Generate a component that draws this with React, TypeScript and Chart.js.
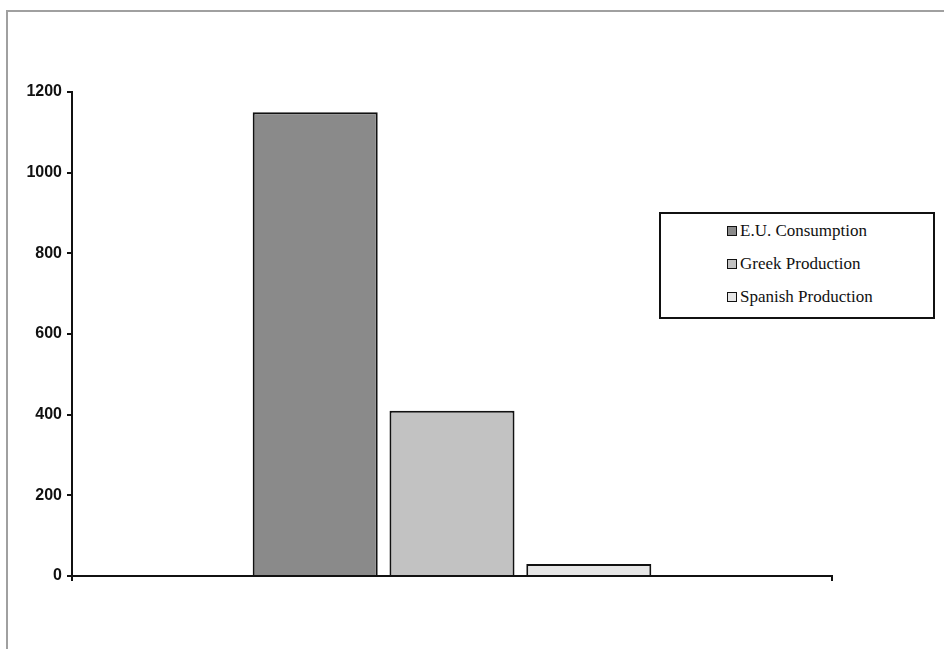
import React, { useEffect, useRef } from "react";
import { Chart, registerables } from "chart.js";

Chart.register(...registerables);

const categories: string[] = [""];
const seriesNames: string[] = ["E.U. Consumption", "Greek Production", "Spanish Production"];
const euConsumption: number[] = [1150];
const greekProduction: number[] = [410];
const spanishProduction: number[] = [30];
const seriesColors: string[] = ["#8a8a8a", "#c2c2c2", "#e6e6e6"];
const yTicks: number[] = [0, 200, 400, 600, 800, 1000, 1200];

export default function App() {
  const canvasRef = useRef<HTMLCanvasElement | null>(null);

  useEffect(() => {
    if (!canvasRef.current) return;
    const seriesValues = [euConsumption, greekProduction, spanishProduction];
    const chart = new Chart(canvasRef.current, {
      type: "bar",
      data: {
        labels: categories,
        datasets: seriesNames.map((name, i) => ({
          label: name,
          data: seriesValues[i],
          backgroundColor: seriesColors[i],
          borderColor: "#111",
          borderWidth: 2,
          barPercentage: 0.914,
          categoryPercentage: 0.54,
        })),
      },
      options: {
        animation: false,
        responsive: false,
        maintainAspectRatio: false,
        layout: { padding: { left: 0, right: 112, top: 92, bottom: 0 } },
        plugins: {
          legend: { display: false },
          tooltip: { enabled: false },
          title: { display: false },
        },
        scales: {
          x: {
            offset: true,
            grid: {
              display: true,
              offset: true,
              drawOnChartArea: false,
              drawTicks: true,
              tickLength: 5,
              color: "#111",
              lineWidth: 2,
            },
            border: { display: true, color: "#111", width: 2 },
            ticks: { display: false },
            afterFit: (scale: any) => {
              scale.height = 73;
            },
          },
          y: {
            min: 0,
            max: 1200,
            afterBuildTicks: (scale: any) => {
              scale.ticks = yTicks.map((v) => ({ value: v }));
            },
            grid: {
              display: true,
              drawOnChartArea: false,
              drawTicks: true,
              tickLength: 5,
              color: "#111",
              lineWidth: 2,
            },
            border: { display: true, color: "#111", width: 2 },
            ticks: {
              padding: 5,
              color: "#111",
              callback: (v: any) => String(v),
              font: { family: "'Liberation Sans', Arial, sans-serif", size: 16, weight: "bold" },
            },
            afterFit: (scale: any) => {
              scale.width = 72;
            },
          },
        },
      },
    });
    return () => chart.destroy();
  }, []);

  return (
    <div
      style={{
        position: "fixed",
        left: 0,
        top: 0,
        width: 944,
        height: 649,
        background: "#fff",
        overflow: "hidden",
      }}
    >
      <div
        style={{
          position: "absolute",
          left: 6,
          top: 10,
          width: 944,
          height: 700,
          borderLeft: "2px solid #a0a0a0",
          borderTop: "2px solid #a0a0a0",
        }}
      />
      <canvas ref={canvasRef} width={944} height={649} style={{ position: "absolute", left: 0, top: 0 }} />
      <div
        style={{
          position: "absolute",
          left: 659,
          top: 212,
          width: 272,
          height: 103,
          border: "2px solid #111",
          background: "#fff",
          fontFamily: "'Liberation Serif', 'Times New Roman', serif",
          fontSize: 17,
          color: "#111",
        }}
      >
        {seriesNames.map((name, i) => (
          <div
            key={name}
            style={{
              position: "absolute",
              left: 66,
              top: 7 + i * 33,
              height: 20,
              display: "flex",
              alignItems: "center",
              whiteSpace: "nowrap",
            }}
          >
            <span
              style={{
                display: "inline-block",
                width: 8,
                height: 8,
                border: "1.5px solid #111",
                background: seriesColors[i],
                marginRight: 3,
              }}
            />
            <span>{name}</span>
          </div>
        ))}
      </div>
    </div>
  );
}
